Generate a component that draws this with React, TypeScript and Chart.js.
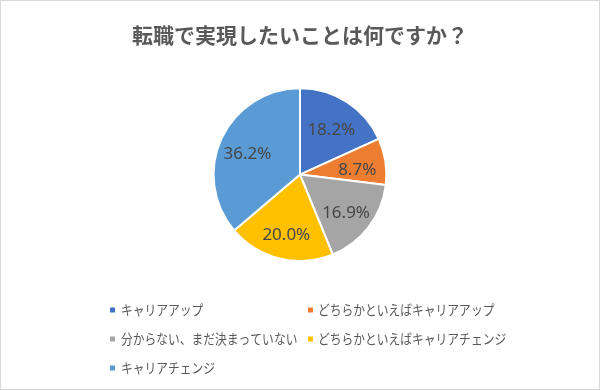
import React, { useEffect, useRef } from "react";
import { Chart, registerables } from "chart.js";

Chart.register(...registerables);

const titleText = "転職で実現したいことは何ですか？";
const categories = [
  "キャリアアップ",
  "どちらかといえばキャリアアップ",
  "分からない、まだ決まっていない",
  "どちらかといえばキャリアチェンジ",
  "キャリアチェンジ",
];
const values = [18.2, 8.7, 16.9, 20.0, 36.2];
const colors = ["#4472C4", "#ED7D31", "#A5A5A5", "#FFC000", "#5B9BD5"];

const JP_FONT = "'Noto Sans CJK JP', 'Noto Sans', sans-serif";

const framePlugin = {
  id: "frame",
  beforeDraw(chart: any) {
    const { ctx, width, height } = chart;
    ctx.save();
    ctx.fillStyle = "#ffffff";
    ctx.fillRect(0, 0, width, height);
    ctx.strokeStyle = "#d9d9d9";
    ctx.lineWidth = 1;
    ctx.strokeRect(0.5, 0.5, width - 1, height - 1);
    ctx.restore();
  },
};

const sliceLabelPlugin = {
  id: "sliceLabels",
  afterDatasetsDraw(chart: any) {
    const { ctx } = chart;
    const meta = chart.getDatasetMeta(0);
    const data = chart.data.datasets[0].data as number[];
    ctx.save();
    ctx.font = "17px 'Noto Sans', 'DejaVu Sans', sans-serif";
    ctx.fillStyle = "#474747";
    ctx.textAlign = "center";
    ctx.textBaseline = "middle";
    meta.data.forEach((arc: any, i: number) => {
      const p = arc.getProps(["x", "y", "startAngle", "endAngle", "outerRadius"], true);
      const mid = (p.startAngle + p.endAngle) / 2;
      const r = p.outerRadius * 0.67;
      const tx = p.x + Math.cos(mid) * r;
      const ty = p.y + Math.sin(mid) * r + 4;
      ctx.fillText(data[i].toFixed(1) + "%", tx, ty);
    });
    ctx.restore();
  },
};

const gridLegendPlugin = {
  id: "gridLegend",
  afterDraw(chart: any) {
    const { ctx } = chart;
    const labels = chart.data.labels as string[];
    const bg = chart.data.datasets[0].backgroundColor as string[];
    const colX = [110, 308];
    const rowY0 = 310;
    const rowStep = 29;
    ctx.save();
    ctx.font = "14px " + JP_FONT;
    ctx.textBaseline = "middle";
    ctx.textAlign = "left";
    labels.forEach((lab, i) => {
      const col = i % 2;
      const row = Math.floor(i / 2);
      const x = colX[col];
      const y = rowY0 + row * rowStep;
      ctx.fillStyle = bg[i];
      ctx.fillRect(x, y - 2.5, 5, 5);
      ctx.fillStyle = "#595959";
      const w = ctx.measureText(lab).width;
      ctx.fillText(lab, x + (col === 0 ? 11 : 10), y, w * 0.84);
    });
    ctx.restore();
  },
};

export default function App() {
  const canvasRef = useRef<HTMLCanvasElement | null>(null);

  useEffect(() => {
    document.body.style.margin = "0";
    const canvas = canvasRef.current;
    if (!canvas) return;
    const chart = new Chart(canvas, {
      type: "pie",
      data: {
        labels: categories,
        datasets: [
          {
            data: values,
            backgroundColor: colors,
            borderColor: "#ffffff",
            borderWidth: 2,
          },
        ],
      },
      options: {
        responsive: false,
        animation: false,
        layout: { padding: { top: 0, bottom: 128, left: 0, right: 0 } },
        plugins: {
          legend: { display: false },
          tooltip: { enabled: false },
          title: {
            display: true,
            text: titleText,
            color: "#595959",
            font: { size: 21, weight: "bold", family: JP_FONT },
            padding: { top: 22, bottom: 40 },
          },
        },
      },
      plugins: [framePlugin, sliceLabelPlugin, gridLegendPlugin],
    });
    return () => chart.destroy();
  }, []);

  return (
    <div style={{ position: "absolute", left: 0, top: 0, width: 600, height: 390 }}>
      <canvas ref={canvasRef} width={600} height={390} style={{ display: "block" }} />
    </div>
  );
}
